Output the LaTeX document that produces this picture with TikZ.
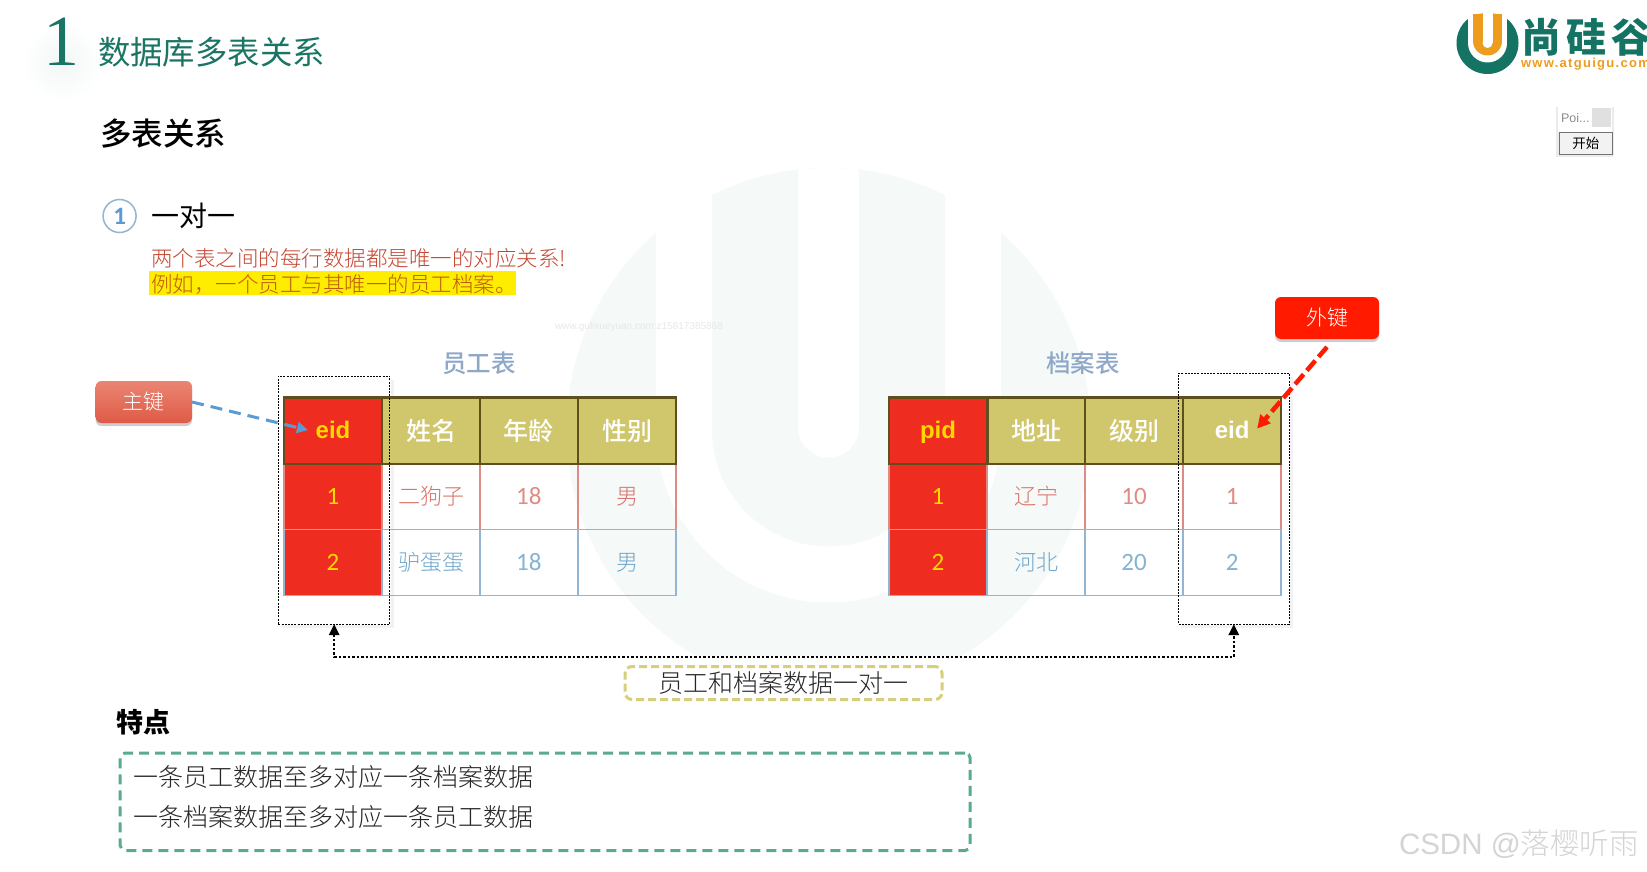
\documentclass[tikz,border=0pt]{standalone}
\usepackage{fontspec}
\setmainfont{Noto Sans CJK SC}
\newfontfamily\cjkl{Noto Sans CJK SC Light}
\newfontfamily\cjkm{Noto Sans CJK SC Medium}
\newfontfamily\carl{Carlito}
\newfontfamily\libs{Liberation Sans}
\newfontfamily\libser{Liberation Serif}
\newfontfamily\logow[LetterSpace=10]{Liberation Sans}
\usetikzlibrary{shadows,arrows.meta,calc}
\newcommand{\fsz}[1]{\fontsize{#1}{#1}\selectfont}
\definecolor{teal1}{HTML}{1B7565}
\definecolor{logoT}{HTML}{147363}
\definecolor{logoO}{HTML}{EE9C1E}
\definecolor{pale}{HTML}{F5F9F8}
\definecolor{hdr}{HTML}{D0C66C}
\definecolor{hdrb}{HTML}{5F4F1F}
\definecolor{red1}{HTML}{EE2C1F}
\definecolor{yel1}{HTML}{FFD800}
\definecolor{rowR}{HTML}{DE8B84}
\definecolor{rowB}{HTML}{92B5D3}
\definecolor{txtR}{HTML}{DA7068}
\definecolor{txtB}{HTML}{6FA6CA}
\definecolor{numR}{HTML}{E08C84}
\definecolor{numB}{HTML}{85B3D2}
\definecolor{ttl}{HTML}{8FA8C8}
\definecolor{redT}{HTML}{C4452F}
\definecolor{orT}{HTML}{C05A0A}
\definecolor{lblB}{HTML}{D8CF7C}
\definecolor{grnB}{HTML}{5BA993}
\definecolor{arrB}{HTML}{5B9BD5}
\definecolor{arrR}{HTML}{FF1A00}
\definecolor{pkT}{HTML}{EA8573}
\definecolor{pkB}{HTML}{DE5B46}
\tikzset{
  x=1pt,y=-1pt,
  txt/.style={inner sep=0pt,outer sep=0pt,anchor=center},
  ltxt/.style={inner sep=0pt,outer sep=0pt,anchor=west},
  cellbase/.style={minimum width=97.7pt,minimum height=66.2pt,inner sep=0pt,outer sep=0pt,anchor=center},
  headcell/.style={cellbase,fill=hdr,draw=hdrb,line width=2.4pt,text=white,font=\cjkm\fsz{25}},
  headred/.style={cellbase,fill=red1,draw=hdrb,line width=2.4pt,text=yel1,font=\libs\fsz{24}\bfseries,text height=16pt,text depth=0pt},
  headeid/.style={headcell,font=\libs\fsz{24}\bfseries,text height=16pt,text depth=0pt},
  r1cell/.style={cellbase,draw=rowR,line width=1.4pt,text=txtR,font=\cjkl\fsz{22}},
  r2cell/.style={cellbase,draw=rowB,line width=1.4pt,text=txtB,font=\cjkl\fsz{22}},
  r1num/.style={r1cell,text=numR,font=\carl\fsz{25}},
  r2num/.style={r2cell,text=numB,font=\carl\fsz{25}},
  r1red/.style={cellbase,fill=red1,draw=rowR,line width=1.4pt,text=yel1,font=\carl\fsz{25}},
  r2red/.style={cellbase,fill=red1,draw=rowB,line width=1.4pt,text=yel1,font=\carl\fsz{25}},
  dotbox/.style={draw=black,line width=1pt,dash pattern=on 2pt off 1.2pt,inner sep=0pt,outer sep=0pt,anchor=north west},
  tabtitle/.style={txt,text=ttl,font=\cjkm\fsz{24.5}},
  softshadow/.style={drop shadow={shadow xshift=0pt,shadow yshift=-3pt,opacity=.28,fill=black!70}},
  callout/.style={rounded corners=6pt,inner sep=0pt,outer sep=0pt,anchor=north west,text=white,font=\cjkl\fsz{21},softshadow},
}
\begin{document}
\begin{tikzpicture}
\useasboundingbox (0,0) rectangle (1647,872);
\fill[white] (0,0) rectangle (1647,872);
% faint glow behind the numeral
\shade[inner color=teal1!6,outer color=white,draw=none] (62,62) circle[radius=40pt];
% big pale watermark
\begin{scope}
\clip (0,0) rectangle (1647,655);
\begin{scope}
\clip (828.5,430) circle[radius=262pt];
\fill[pale] (560,160) rectangle (1100,700);
\fill[white] (656,100) rectangle (1001,430);
\fill[white] (828.5,430) circle[radius=172.5pt];
\fill[pale] (712,100) rectangle (945,430);
\fill[pale] (828.5,430) circle[radius=116.5pt];
\fill[white] (798,100) rectangle (859,427);
\fill[white] (828.5,427) circle[radius=30.5pt];
\end{scope}
\end{scope}
\node[ltxt,text=black!9,font=\libs\fsz{10}] (wm) at (555,327) {www.gulixueyuan.com:z15817385868};

% heading
\node[txt,text=teal1,font=\libser\fsz{72}] (num) at (61,42) {1};
\node[ltxt,text=teal1,font=\fsz{32.4}] (title) at (98,52) {数据库多表关系};
\node[ltxt,text=black,font=\cjkm\fsz{31.5}] (sub) at (100,134) {多表关系};
\node[circle,draw=rowB,line width=1.5pt,minimum size=33pt,inner sep=0pt,text=arrB,font=\carl\fsz{25}\bfseries] (c1) at (119.6,216) {1};
\node[ltxt,text=black,font=\fsz{28}] (o2o) at (151,216) {一对一};
\node[ltxt,text=redT,font=\cjkl\fsz{21.5}] (l1) at (151,258) {两个表之间的每行数据都是唯一的对应关系!};
\node[anchor=north west,minimum width=367pt,minimum height=24pt,inner sep=0pt,fill=yellow!95!orange] (hl) at (149,271) {};
\node[ltxt,text=orT,font=\cjkl\fsz{21.5}] (l2) at (151,284) {例如，一个员工与其唯一的员工档案。};

% logo
\fill[logoT] (1487.5,43) circle[radius=31pt];
\fill[white] (1468,5) rectangle (1507,43);
\fill[white] (1487.5,43) circle[radius=19.5pt];
\fill[logoO] (1473,14) rectangle (1502,41);
\fill[logoO] (1487.5,41) circle[radius=14.5pt];
\fill[logoO] (1473,16) .. controls (1480,12) and (1495,12) .. (1502,16);
\fill[white] (1482.5,10) rectangle (1492.5,43);
\fill[white] (1487.5,43) circle[radius=5pt];
\node[txt,text=logoT,font=\fsz{40}\bfseries] (lg1) at (1541,37) {尚};
\node[txt,text=logoT,font=\fsz{40}\bfseries] (lg2) at (1586,37) {硅};
\node[txt,text=logoT,font=\fsz{40}\bfseries] (lg3) at (1631,37) {谷};
\node[ltxt,text=logoO,font=\logow\fsz{13}\bfseries] (lgw) at (1521,64) {www.atguigu.com};

% little widget
\fill[black!8] (1556,107) rectangle (1614,157);
\fill[white] (1558,105) rectangle (1612,132);
\node[ltxt,text=black!45,font=\libs\fsz{12.5}] (poi) at (1561,118) {Poi...};
\fill[black!12] (1592,108) rectangle (1611,127);
\node[anchor=north west,minimum width=53pt,minimum height=22pt,inner sep=0pt,fill=black!5,draw=black!55,line width=1.5pt,text=black,font=\fsz{13.5}] (btn) at (1558.5,132) {开始};

% faint shadows of the selection boxes
\draw[black!5,line width=3pt] (281,626) -- (392,626) -- (392,380);
\draw[black!5,line width=3pt] (1181,626) -- (1291,626) -- (1291,377);

% table one
\node[tabtitle] (tt1) at (479,363) {员工表};
\node[r1red] (a11) at (333,496.3) {1};
\node[r1cell] (a12) at (431.1,496.3) {二狗子};
\node[r1num] (a13) at (528.9,496.3) {18};
\node[r1cell] (a14) at (627.1,496.3) {男};
\node[r2red] (a21) at (333,562.5) {2};
\node[r2cell] (a22) at (431.1,562.5) {驴蛋蛋};
\node[r2num] (a23) at (528.9,562.5) {18};
\node[r2cell] (a24) at (627.1,562.5) {男};
\node[headred] (a01) at (333,430.6) {eid};
\node[headcell] (a02) at (431.1,430.6) {姓名};
\node[headcell] (a03) at (528.9,430.6) {年龄};
\node[headcell] (a04) at (627.1,430.6) {性别};

% table two
\node[tabtitle] (tt2) at (1083,363) {档案表};
\node[r1red] (b11) at (938,496.3) {1};
\node[r1cell] (b12) at (1036.2,496.3) {辽宁};
\node[r1num] (b13) at (1134,496.3) {10};
\node[r1num] (b14) at (1232.1,496.3) {1};
\node[r2red] (b21) at (938,562.5) {2};
\node[r2cell] (b22) at (1036.2,562.5) {河北};
\node[r2num] (b23) at (1134,562.5) {20};
\node[r2num] (b24) at (1232.1,562.5) {2};
\node[headred] (b01) at (938,430.6) {pid};
\node[headcell] (b02) at (1036.2,430.6) {地址};
\node[headcell] (b03) at (1134,430.6) {级别};
\node[headeid] (b04) at (1232.1,430.6) {eid};

% dotted selection boxes
\node[dotbox,minimum width=111.5pt,minimum height=248pt] (box1) at (278.4,376) {};
\node[dotbox,minimum width=110.5pt,minimum height=251pt] (box2) at (1178.5,373) {};

% callouts
\node[callout,top color=pkT,bottom color=pkB,minimum width=96.5pt,minimum height=42pt] (pk) at (95.6,381) {主键};
\node[callout,fill=arrR,minimum width=104pt,minimum height=42pt] (fk) at (1275,297) {外键};
\coordinate (pktip) at ($(a01.center)+(-25,-0.5)$);
\coordinate (fktip) at ($(b04.center)+(25,-2)$);
\coordinate (fkstart) at ($(fk.south)+(0,8)$);
\draw[arrB,line width=3pt,dash pattern=on 12pt off 7pt,-{Triangle[length=11pt,width=11pt]}] (pk.east) -- (pktip);
\draw[arrR,line width=4.5pt,dash pattern=on 13pt off 5pt,-{Triangle[length=13pt,width=13pt]}] (fkstart) -- (fktip);

% one-to-one link
\coordinate (lnk1) at (box1.south |- 0,657);
\coordinate (lnk2) at (box2.south |- 0,657);
\draw[black,line width=2.5pt,dash pattern=on 2.5pt off 2pt,{Triangle[length=11pt,width=10pt]}-{Triangle[length=11pt,width=10pt]}] (box1.south) -- (lnk1) -- (lnk2) -- (box2.south);
\node[draw=lblB,line width=3pt,dash pattern=on 8pt off 4pt,rounded corners=7pt,minimum width=317pt,minimum height=33pt,inner sep=0pt,text=black!85,font=\cjkl\fsz{25}] (lbl) at (783.5,683) {员工和档案数据一对一};

% features
\node[ltxt,text=black,font=\fsz{27}\bfseries] (feat) at (116,722.5) {特点};
\node[draw=grnB,line width=3pt,dash pattern=on 10pt off 6pt,rounded corners=5pt,anchor=north west,minimum width=850pt,minimum height=97.5pt,inner sep=0pt] (fbox) at (118.7,751.5) {};
\node[ltxt,text=black!85,font=\cjkl\fsz{25}] (f1) at (133.4,777) {一条员工数据至多对应一条档案数据};
\node[ltxt,text=black!85,font=\cjkl\fsz{25}] (f2) at (133.4,817.5) {一条档案数据至多对应一条员工数据};

% credit
\node[ltxt,text=black!17,font=\cjkl\fsz{29.5}] (csdn) at (1399,844) {{\libs CSDN @}落樱听雨};
\end{tikzpicture}
\end{document}
